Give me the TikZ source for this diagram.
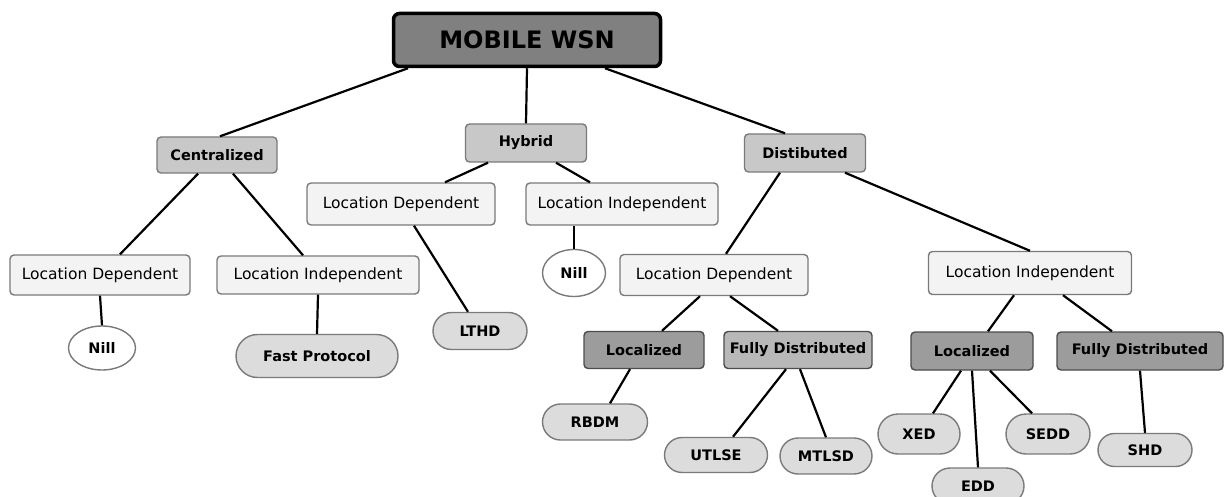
\documentclass[tikz,border=0pt]{standalone}
\usepackage{fontspec}
\setmainfont{DejaVu Sans}
\usetikzlibrary{shapes.misc,shapes.geometric}
\definecolor{topfill}{HTML}{808080}
\definecolor{midfill}{HTML}{C8C8C8}
\definecolor{lightfill}{HTML}{F3F3F3}
\definecolor{leaffill}{HTML}{DCDCDC}
\definecolor{darkfill}{HTML}{9C9C9C}
\definecolor{fdfill}{HTML}{B8B8B8}
\definecolor{edgegray}{HTML}{7A7A7A}
\tikzset{
  topbox/.style={draw=black, line width=3.5pt, fill=topfill, rounded corners=6pt,
    font=\fontsize{24}{24}\selectfont\bfseries, inner sep=0pt},
  midbox/.style={draw=edgegray, line width=1.4pt, fill=midfill, rounded corners=4pt,
    font=\fontsize{14.5}{14.5}\selectfont\bfseries, inner sep=0pt},
  darkbox/.style={midbox, fill=darkfill, draw=black!70},
  fdbox/.style={midbox, fill=fdfill, draw=black!70},
  lightbox/.style={draw=edgegray, line width=1.4pt, fill=lightfill, rounded corners=4pt,
    font=\fontsize{15.5}{15.5}\selectfont, inner sep=0pt},
  leaf/.style={rounded rectangle, draw=edgegray, line width=1.4pt, fill=leaffill,
    font=\fontsize{14.5}{14.5}\selectfont\bfseries, inner sep=0pt},
  nill/.style={ellipse, draw=edgegray, line width=1.4pt, fill=white,
    font=\fontsize{14.5}{14.5}\selectfont\bfseries, inner sep=0pt},
  link/.style={line width=2.2pt, black}
}
\begin{document}
\begin{tikzpicture}[x=1pt,y=-1pt]
\useasboundingbox[fill=white] (0,0) rectangle (1224,497);
% nodes
\node[topbox, minimum width=267, minimum height=53] (top) at (527,40) {MOBILE WSN};
\node[midbox, minimum width=120, minimum height=36] (cen) at (217,155) {Centralized};
\node[midbox, minimum width=121, minimum height=38] (hyb) at (526,143) {Hybrid};
\node[midbox, minimum width=121, minimum height=38] (dis) at (805,153) {Distibuted};

\node[lightbox, minimum width=180, minimum height=40] (cld) at (100,275) {Location Dependent};
\node[lightbox, minimum width=202, minimum height=38] (cli) at (318,275) {Location Independent};
\node[lightbox, minimum width=188, minimum height=42] (hld) at (401,204) {Location Dependent};
\node[lightbox, minimum width=192, minimum height=42] (hli) at (622,204) {Location Independent};
\node[lightbox, minimum width=188, minimum height=41] (dld) at (714,275) {Location Dependent};
\node[lightbox, minimum width=203, minimum height=43] (dli) at (1030,273) {Location Independent};

\node[nill, minimum width=67, minimum height=44] (n1) at (102,348) {Nill};
\node[leaf, minimum width=162, minimum height=43] (fast) at (317,356) {Fast Protocol};
\node[leaf, minimum width=94, minimum height=37] (lthd) at (480,331) {LTHD};
\node[nill, minimum width=63, minimum height=47] (n2) at (574,273) {Nill};

\node[darkbox, minimum width=120, minimum height=37] (loc1) at (644,350) {Localized};
\node[fdbox, minimum width=148, minimum height=37] (fd1) at (798,350) {Fully Distributed};
\node[darkbox, minimum width=122, minimum height=38] (loc2) at (972,351) {Localized};
\node[darkbox, minimum width=166, minimum height=38] (fd2) at (1140,351) {Fully Distributed};

\node[leaf, minimum width=105, minimum height=36] (rbdm) at (595,422) {RBDM};
\node[leaf, minimum width=103, minimum height=35] (utlse) at (716,455) {UTLSE};
\node[leaf, minimum width=92, minimum height=36] (mtlsd) at (826,456) {MTLSD};
\node[leaf, minimum width=82, minimum height=40] (xed) at (919,434) {XED};
\node[leaf, minimum width=92, minimum height=36] (edd) at (978,486) {EDD};
\node[leaf, minimum width=84, minimum height=40] (sedd) at (1048,434) {SEDD};
\node[leaf, minimum width=94, minimum height=33] (shd) at (1145,450) {SHD};

% connectors
\draw[link] ([xshift=-119pt]top.south) -- ([xshift=3pt]cen.north);
\draw[link] (top.south) -- (hyb.north);
\draw[link] ([xshift=78pt]top.south) -- ([xshift=-20pt]dis.north);

\draw[link] ([xshift=-19pt]cen.south) -- ([xshift=20pt]cld.north);
\draw[link] ([xshift=16pt]cen.south) -- ([xshift=-15pt]cli.north);
\draw[link] (cld.south) -- (n1.north);
\draw[link] (cli.south) -- (fast.north);

\draw[link] ([xshift=-38pt]hyb.south) -- ([xshift=44pt]hld.north);
\draw[link] ([xshift=30pt]hyb.south) -- ([xshift=-32pt]hli.north);
\draw[link] ([xshift=13pt]hld.south) -- ([xshift=-12pt]lthd.north);
\draw[link] ([xshift=-48pt]hli.south) -- (n2.north);

\draw[link] ([xshift=-25pt]dis.south) -- ([xshift=12pt]dld.north);
\draw[link] ([xshift=40pt]dis.south) -- (dli.north);
\draw[link] ([xshift=-14pt]dld.south) -- ([xshift=18pt]loc1.north);
\draw[link] ([xshift=16pt]dld.south) -- ([xshift=-20pt]fd1.north);
\draw[link] ([xshift=-14pt]loc1.south) -- ([xshift=15pt]rbdm.north);
\draw[link] ([xshift=-12pt]fd1.south) -- ([xshift=17pt]utlse.north);
\draw[link] ([xshift=2pt]fd1.south) -- ([xshift=0pt]mtlsd.north);

\draw[link] ([xshift=-16pt]dli.south) -- ([xshift=16pt]loc2.north);
\draw[link] ([xshift=33pt]dli.south) -- ([xshift=-28pt]fd2.north);
\draw[link] ([xshift=-11pt]loc2.south) -- ([xshift=14pt]xed.north);
\draw[link] (loc2.south) -- (edd.north);
\draw[link] ([xshift=18pt]loc2.south) -- ([xshift=-16pt]sedd.north);
\draw[link] (fd2.south) -- (shd.north);
\end{tikzpicture}
\end{document}
